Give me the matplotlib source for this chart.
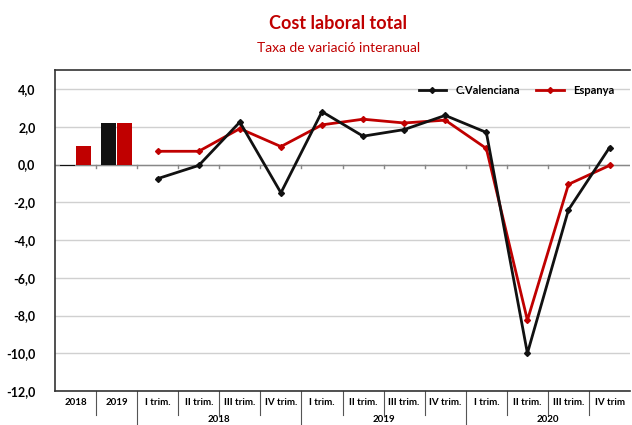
import matplotlib
matplotlib.use("Agg")
import matplotlib.pyplot as plt
import matplotlib.transforms as mtransforms
import numpy as np

plt.rcParams['font.family'] = ['Lato', 'DejaVu Sans']

# data
categories = ["2018", "2019", "I trim.", "II trim.", "III trim.", "IV trim.",
              "I trim.", "II trim.", "III trim.", "IV trim.",
              "I trim.", "II trim.", "III trim.", "IV trim"]
groups = ["2018", "2019", "2020"]
bar_cv = [-0.1, 2.2]
bar_es = [1.0, 2.2]
line_cv = [-0.75, -0.05, 2.25, -1.5, 2.8, 1.5, 1.85, 2.6, 1.7, -10.0, -2.4, 0.9]
line_es = [0.7, 0.7, 1.9, 0.95, 2.1, 2.4, 2.2, 2.35, 0.85, -8.25, -1.05, -0.05]
yticks = [4, 2, 0, -2, -4, -6, -8, -10, -12]

red = "#C00000"

fig = plt.figure(figsize=(6.32, 4.25), dpi=100)
ax = fig.add_axes([0.087, 0.08, 0.91, 0.755])

x = np.arange(len(categories))
ax.bar(x[:2] - 0.2, bar_cv, width=0.36, color="#111111", zorder=3)
ax.bar(x[:2] + 0.2, bar_es, width=0.36, color=red, zorder=3)

xq = x[2:]
ax.plot(xq, line_es, color=red, lw=2, marker="D", ms=3, zorder=4, label="Espanya")
ax.plot(xq, line_cv, color="#111111", lw=2, marker="D", ms=3, zorder=5, label="C.Valenciana")

ax.set_xlim(-0.5, len(categories) - 0.5)
ax.set_ylim(-12, 5)
ax.set_yticks(yticks)
ax.set_yticklabels([f"{v:.1f}".replace(".", ",") for v in yticks], fontweight="bold", fontsize=9)
ax.yaxis.grid(True, color="#d0d0d0", lw=1)
ax.set_axisbelow(True)
ax.tick_params(axis="y", length=0, pad=14)
ax.set_xticks([])
for s in ax.spines.values():
    s.set_color("#333333")
    s.set_linewidth(1.2)
ax.spines["right"].set_visible(False)

# zero line with small ticks
ax.axhline(0, color="#888888", lw=1, zorder=2)
for b in np.arange(0.5, len(categories) - 0.5, 1):
    ax.plot([b, b], [0, -0.2], color="#888888", lw=1, zorder=2)

# category labels table below
trans = mtransforms.blended_transform_factory(ax.transData, ax.transAxes)
row = 0.075
for i, c in enumerate(categories):
    ax.text(i, -0.037, c, transform=trans, ha="center", va="center",
            fontsize=7, fontweight="bold")
for b in np.arange(0.5, len(categories) - 0.5, 1):
    full = b in (1.5, 5.5, 9.5)
    ax.plot([b, b], [0, -(0.2 if full else row)], transform=trans,
            color="#555555", lw=0.8, clip_on=False)
for g, c in zip(groups, [3.5, 7.5, 11.5]):
    ax.text(c, -0.088, g, transform=trans, ha="center", va="center",
            fontsize=7, fontweight="bold")

handles, labels = ax.get_legend_handles_labels()
leg = ax.legend(handles[::-1], labels[::-1], loc="upper right", bbox_to_anchor=(0.99, 0.985),
                ncol=2, frameon=False, handlelength=2.5, columnspacing=1.5,
                prop={"weight": "bold", "size": 8})

fig.text(0.535, 0.945, "Cost laboral total", color=red, fontsize=13, fontweight="bold",
         ha="center", va="center")
fig.text(0.535, 0.888, "Taxa de variació interanual", color=red, fontsize=10,
         ha="center", va="center")

fig.savefig("out.png", dpi=100)
